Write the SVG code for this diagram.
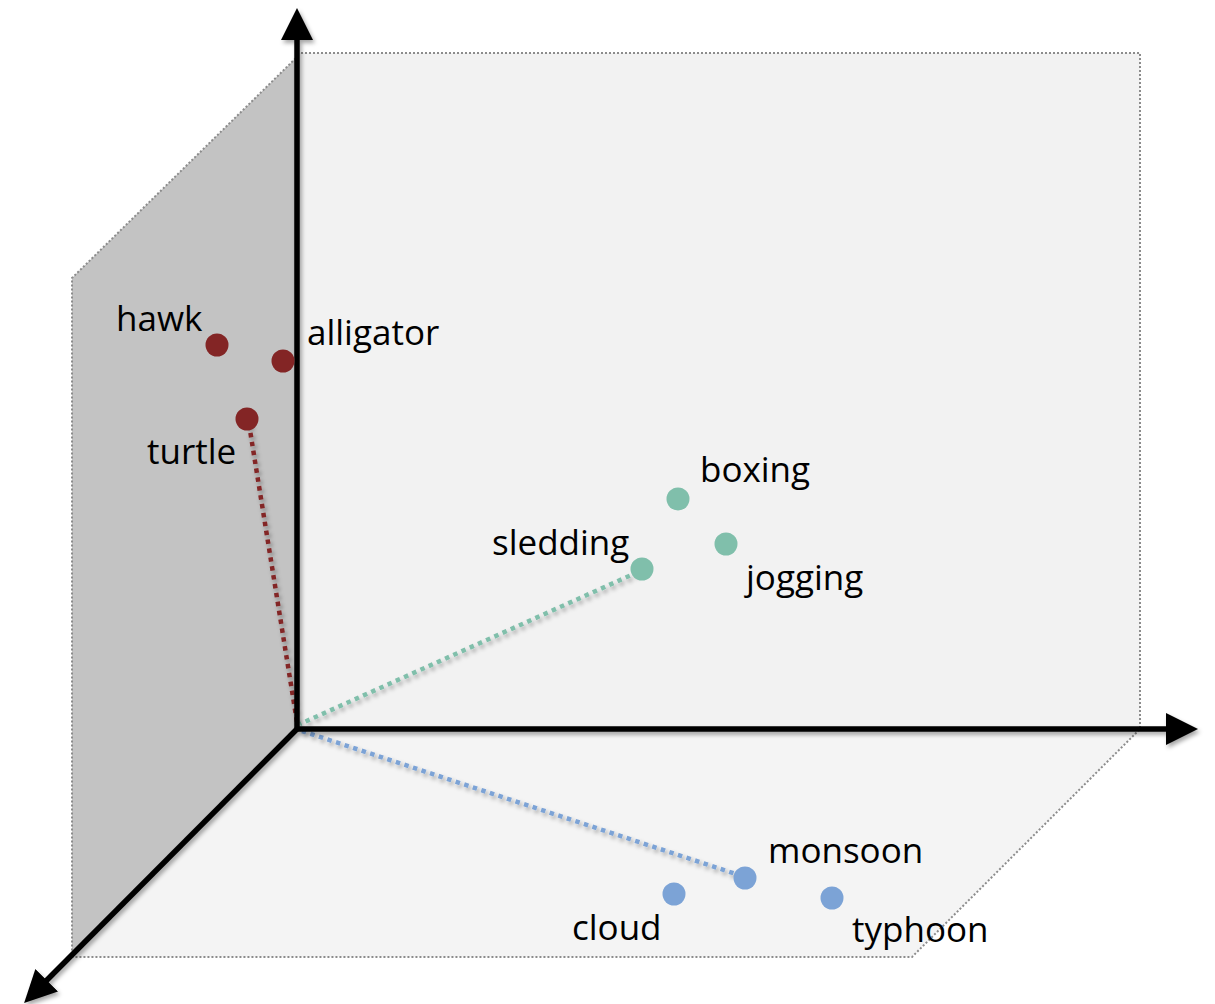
<svg xmlns="http://www.w3.org/2000/svg" width="1215" height="1004" viewBox="0 0 1215 1004">
<style>
.plane{stroke:#8c8c8c;stroke-width:2;stroke-dasharray:2 2}
.axis{stroke:#000;stroke-width:5.5;fill:none}
.lbl{font-family:"Open Sans","Noto Sans",sans-serif;font-size:35px;fill:#000}
.red{fill:#832525}
.teal{fill:#80bfab}
.blue{fill:#7ca3d6}
.link{fill:none;stroke-width:4.5;stroke-dasharray:4.5 4.5}
</style>
<defs>
<filter id="sh" x="-20%" y="-20%" width="140%" height="140%">
<feDropShadow dx="2" dy="3" stdDeviation="2" flood-color="#000" flood-opacity="0.35"/>
</filter>
<marker id="arr" markerUnits="userSpaceOnUse" viewBox="0 0 32 32" refX="1" refY="16" markerWidth="32" markerHeight="32" orient="auto">
<path d="M0,0 L32,16 L0,32 Z" fill="#000"/>
</marker>
</defs>
<g id="planes">
<polygon id="back-wall" points="297,53 1140,53 1140,729 297,729" fill="#f2f2f2"/>
<polygon id="floor" points="297,729 1140,729 912,957 72,957 72,954" fill="#f4f4f4"/>
<polygon id="left-wall" points="297,729 297,57 72,278 72,954" fill="#c3c3c3"/>
<path class="plane" fill="none" d="M297,53 L1140,53 L1140,729 L912,957 L72,957 L72,278 L297,57"/>
</g>
<g id="connectors" filter="url(#sh)">
<line class="link" stroke="#832525" x1="249" y1="424" x2="297" y2="722"/>
<line class="link" stroke="#80bfab" x1="638" y1="572" x2="300" y2="724"/>
<line class="link" stroke="#7ca3d6" x1="742" y1="876" x2="302" y2="731"/>
</g>
<g id="axes" filter="url(#sh)">
<line class="axis" x1="297" y1="731" x2="297" y2="39" marker-end="url(#arr)"/>
<line class="axis" x1="295" y1="729" x2="1167" y2="729" marker-end="url(#arr)"/>
<line class="axis" x1="298" y1="728" x2="46" y2="981" marker-end="url(#arr)"/>
</g>
<g id="hawk"><circle class="red" cx="217" cy="345" r="11.5"/><text class="lbl" x="116" y="331">hawk</text></g>
<g id="alligator"><circle class="red" cx="283" cy="361" r="11.5"/><text class="lbl" x="307" y="345">alligator</text></g>
<g id="turtle"><circle class="red" cx="247" cy="419" r="11.5"/><text class="lbl" x="147" y="464">turtle</text></g>
<g id="boxing"><circle class="teal" cx="678" cy="499" r="11.5"/><text class="lbl" x="700" y="482">boxing</text></g>
<g id="jogging"><circle class="teal" cx="726" cy="544" r="11.5"/><text class="lbl" x="746" y="590">jogging</text></g>
<g id="sledding"><circle class="teal" cx="642" cy="569" r="11.5"/><text class="lbl" x="492" y="555">sledding</text></g>
<g id="monsoon"><circle class="blue" cx="745" cy="878" r="11.5"/><text class="lbl" x="768" y="863">monsoon</text></g>
<g id="cloud"><circle class="blue" cx="674" cy="894" r="11.5"/><text class="lbl" x="572" y="940">cloud</text></g>
<g id="typhoon"><circle class="blue" cx="832" cy="898" r="11.5"/><text class="lbl" x="852" y="942">typhoon</text></g>
</svg>
